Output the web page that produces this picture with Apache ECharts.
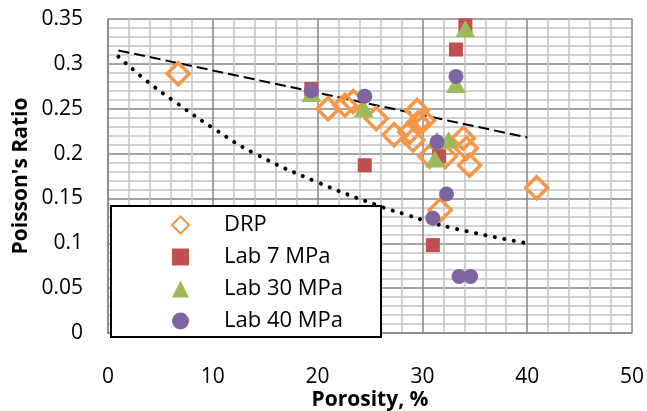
<!DOCTYPE html>
<html>
<head>
<meta charset="utf-8">
<script src="https://cdn.jsdelivr.net/npm/echarts@6/dist/echarts.min.js"></script>
<style>
  html, body { margin: 0; padding: 0; background: #fff; }
  #chart { width: 647px; height: 411px; }
</style>
</head>
<body>
<div id="chart"></div>
<script>
// values: [porosity %, Poisson's ratio]
const drp = [
  [6.7, 0.289], [21.0, 0.250], [22.6, 0.254], [23.4, 0.258], [25.6, 0.239],
  [27.3, 0.221], [28.8, 0.224], [29.1, 0.215], [29.5, 0.248], [29.6, 0.234],
  [30.1, 0.237], [30.7, 0.197], [32.2, 0.197], [33.9, 0.217], [34.2, 0.206],
  [34.5, 0.187], [31.7, 0.137], [40.9, 0.162]
];
const lab7 = [[19.4, 0.272], [24.5, 0.187], [31.0, 0.098], [31.6, 0.197], [33.2, 0.316], [34.1, 0.343]];
const lab30 = [[19.4, 0.267], [24.4, 0.250], [31.4, 0.215], [32.5, 0.215], [31.2, 0.194], [33.2, 0.277], [34.1, 0.339]];
const lab40 = [[19.4, 0.270], [24.5, 0.264], [31.4, 0.213], [33.2, 0.286], [32.3, 0.155], [31.0, 0.128], [33.5, 0.063], [34.6, 0.063]];

// trend lines
const dashedTrend = [[1, 0.315], [40, 0.218]];
const dottedTrend = [
  [1, 0.308], [3.8, 0.280], [6.6, 0.256], [10.2, 0.227], [14, 0.200], [20, 0.168],
  [26, 0.141], [28.7, 0.131], [30.3, 0.125], [34, 0.114], [40, 0.100]
];

const seriesNames = ['DRP', 'Lab 7 MPa', 'Lab 30 MPa', 'Lab 40 MPa'];
const xRange = [0, 50, 10];
const yRange = [0, 0.35, 0.05];

const font = 'Open Sans';
const chart = echarts.init(document.getElementById('chart'));

const markerStyle = (color) => ({ color: color, opacity: 1 });

const option = {
  animation: false,
  grid: { left: 108, right: 15, top: 19, bottom: 78, outerBoundsMode: 'none' },
  xAxis: {
    type: 'value',
    min: xRange[0], max: xRange[1], interval: xRange[2],
    axisLine: { show: true, onZero: false, lineStyle: { color: '#868686', width: 1.5 } },
    axisTick: { show: false },
    axisLabel: { color: '#000', fontSize: 21, fontFamily: font, margin: 32, lineHeight: 24 },
    splitLine: { show: true, lineStyle: { color: '#868686', width: 1.5 } },
    minorTick: { show: false, splitNumber: 5 },
    minorSplitLine: { show: true, lineStyle: { color: '#c3c3c3', width: 1.5 } },
    name: 'Porosity, %',
    nameLocation: 'middle',
    nameGap: 57,
    nameMoveOverlap: false,
    nameTextStyle: { color: '#000', fontSize: 21, fontWeight: 'bold', fontFamily: font }
  },
  yAxis: {
    type: 'value',
    min: yRange[0], max: yRange[1], interval: yRange[2],
    axisLine: { show: true, lineStyle: { color: '#868686', width: 1.5 } },
    axisTick: { show: false },
    axisLabel: { color: '#000', fontSize: 21, fontFamily: font, margin: 25 },
    splitLine: { show: true, lineStyle: { color: '#868686', width: 1.5 } },
    minorTick: { show: false, splitNumber: 5 },
    minorSplitLine: { show: true, lineStyle: { color: '#c3c3c3', width: 1.5 } },
    name: "Poisson's Ratio",
    nameLocation: 'middle',
    nameRotate: 90,
    nameGap: 76,
    nameMoveOverlap: false,
    nameTextStyle: { color: '#000', fontSize: 21, fontWeight: 'bold', fontFamily: font }
  },
  legend: {
    data: seriesNames,
    orient: 'vertical',
    left: 111,
    top: 206,
    backgroundColor: '#fff',
    borderColor: '#000',
    borderWidth: 2,
    borderRadius: 0,
    padding: [8, 38, 5, 60],
    itemWidth: 17,
    itemHeight: 17,
    itemGap: 10,
    selectedMode: false,
    textStyle: { color: '#000', fontSize: 22, fontFamily: font, lineHeight: 22, padding: [0, 0, 0, 30] }
  },
  series: [
    {
      name: 'dashed', type: 'line', data: dashedTrend, symbol: 'none', silent: true,
      lineStyle: { color: '#000', width: 2, type: [11, 5] }, z: 1
    },
    {
      name: 'dotted', type: 'line', data: dottedTrend, symbol: 'none', silent: true, smooth: true,
      lineStyle: { color: '#000', width: 4, type: [0.1, 9.5], cap: 'round' }, z: 1
    },
    {
      name: seriesNames[0], type: 'scatter', data: drp, symbol: 'diamond', symbolSize: 22,
      itemStyle: { color: 'rgba(0,0,0,0)', borderColor: '#F79646', borderWidth: 3.5, opacity: 1 },
      emphasis: { disabled: true }
    },
    {
      name: seriesNames[1], type: 'scatter', data: lab7, symbol: 'rect', symbolSize: 14,
      itemStyle: markerStyle('#C0504D'), emphasis: { disabled: true }
    },
    {
      name: seriesNames[2], type: 'scatter', data: lab30, symbol: 'triangle', symbolSize: [20, 17],
      itemStyle: markerStyle('#9BBB59'), emphasis: { disabled: true }
    },
    {
      name: seriesNames[3], type: 'scatter', data: lab40, symbol: 'circle', symbolSize: 15,
      itemStyle: markerStyle('#8064A2'), emphasis: { disabled: true }
    }
  ]
};

chart.setOption(option);
</script>
</body>
</html>
